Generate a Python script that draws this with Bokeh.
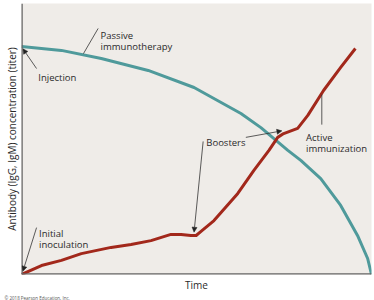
import math
from bokeh.plotting import figure
from bokeh.models import Range1d, Span, Label, Arrow, NormalHead, Title
from bokeh.embed import file_html
from bokeh.resources import INLINE

# Passive immunotherapy (teal) curve, time vs titer (0-100 scale)
passive_time = [0, 11.4, 22.8, 36.2, 49.3, 62.7, 68.4, 76.1, 79.8, 85.5, 91.2, 96.0, 98.9, 100]
passive_titer = [84.1, 82.7, 79.7, 75.3, 69.0, 59.4, 54.2, 45.8, 42.1, 35.4, 25.5, 14.4, 5.9, 0.0]

# Active immunization (red) curve
active_time = [0, 5.7, 11.4, 17.1, 25.6, 31.3, 37.0, 42.7, 45.6, 48.4, 49.9, 51.3, 55.0,
               61.8, 66.4, 70.7, 73.2, 74.9, 78.9, 81.8, 86.3, 91.2, 95.4]
active_titer = [0, 3.3, 5.2, 7.7, 10.0, 11.1, 12.5, 14.8, 14.8, 14.4, 14.4, 15.9, 19.9,
                29.9, 38.4, 45.8, 50.6, 52.0, 53.9, 58.7, 67.9, 76.4, 83.4]

y_label = "Antibody (IgG, IgM) concentration (titer)"
x_label = "Time"
credit = "\u00a9 2018 Pearson Education, Inc."

FONT = "Open Sans"
TEAL = "#4f9a9b"
RED = "#a2281b"
INK = "#2a2a2a"

p = figure(width=374, height=300, output_backend="svg", toolbar_location=None,
           x_axis_location=None, y_axis_location=None,
           min_border_left=0, min_border_right=3, min_border_top=3, min_border_bottom=0)
p.x_range = Range1d(0, 100)
p.y_range = Range1d(0, 100)
p.background_fill_color = "#efece8"
p.border_fill_color = "white"
p.outline_line_color = None
p.grid.visible = False

p.add_layout(Title(text=y_label, align="center", text_font=FONT, text_font_size="10px",
                   text_font_style="normal", text_color=INK, standoff=5, offset=0), "left")
p.add_layout(Title(text=x_label, align="center", text_font=FONT, text_font_size="10px",
                   text_font_style="normal", text_color=INK, standoff=2), "below")
p.add_layout(Title(text=credit, align="left", text_font=FONT, text_font_size="4.5px",
                   text_font_style="normal", text_color="#555555", standoff=0, offset=-17), "below")

p.line(passive_time, passive_titer, line_color=TEAL, line_width=3, line_join="round")
p.line(active_time, active_titer, line_color=RED, line_width=3, line_join="round")

p.add_layout(Span(location=0, dimension="height", line_color="#666666", line_width=2.5))
p.add_layout(Span(location=0, dimension="width", line_color="#666666", line_width=2.5))

def lab(x, y, t, size="9.5px"):
    p.add_layout(Label(x=x, y=y, text=t, text_font=FONT, text_font_size=size,
                       text_color=INK, text_baseline="alphabetic", text_align="left"))

lab(22.6, 88.2, "Passive")
lab(22.6, 84.1, "immunotherapy")
lab(4.8, 72.7, "Injection")
lab(5.0, 15.1, "Initial")
lab(5.0, 11.1, "inoculation")
lab(52.8, 48.7, "Boosters")
lab(81.3, 50.6, "Active")
lab(81.3, 46.6, "immunization")

def lead(x0, y0, x1, y1, head=True):
    end = NormalHead(size=5, line_color="#222222", fill_color="#222222", line_width=0.5) if head else None
    p.add_layout(Arrow(x_start=x0, y_start=y0, x_end=x1, y_end=y1, end=end,
                       line_color="#333333", line_width=0.8))

lead(21.9, 90.8, 17.7, 81.5, head=False)
lead(4.3, 76.0, 0.4, 83.3)
lead(4.3, 17.3, 0.4, 1.2)
lead(64.1, 50.6, 74.4, 53.0)
lead(51.9, 49.1, 49.3, 15.6)
lead(85.8, 66.4, 85.8, 55.3, head=False)

open("out.html", "w").write(file_html(p, INLINE))
